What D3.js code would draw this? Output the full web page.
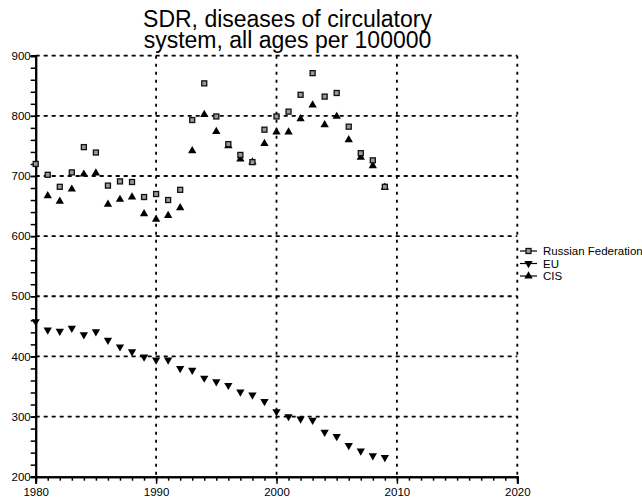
<!DOCTYPE html>
<html>
<head>
<meta charset="utf-8">
<script src="https://cdn.jsdelivr.net/npm/d3@7"></script>
<style>
  body { margin: 0; background: #fff; }
  svg { display: block; font-family: "Liberation Sans", Arial, sans-serif; }
</style>
</head>
<body>
<svg width="642" height="498"></svg>
<script>
// values
var years = d3.range(1980, 2010);
var russia = [720, 702, 682, 706, 748, 739, 684, 691, 690, 665,
              670, 660, 677, 793, 854, 799, 753, 735, 723, 777,
              799, 807, 835, 871, 832, 838, 782, 738, 726, 682];
var eu = [458, 444, 442, 447, 436, 441, 427, 416, 408, 399,
          394, 394, 380, 377, 364, 358, 352, 341, 336, 325,
          308, 300, 296, 294, 274, 267, 252, 243, 235, 232];
var cis = [null, 667, 658, 678, 703, 705, 653, 661, 665, 637,
           628, 634, 647, 742, 802, 774, 750, 728, 723, 754,
           773, 773, 795, 818, 785, 799, 760, 731, 717, 681];
var titleLines = ["SDR, diseases of circulatory", "system, all ages per 100000"];
var xTicks = [1980, 1990, 2000, 2010, 2020];
var yTicks = [200, 300, 400, 500, 600, 700, 800, 900];

var svg = d3.select("svg");
var plotLeft = 35.7, plotRight = 517.3, plotTop = 55.7, plotBottom = 476.7;

var x = d3.scaleLinear().domain([1980, 2020]).range([plotLeft, plotRight]);
var y = d3.scaleLinear().domain([200, 900]).range([plotBottom, plotTop]);

// title
svg.append("text")
    .attr("x", 287.5)
    .attr("y", 27.3)
    .attr("text-anchor", "middle")
    .style("font-size", "23px")
    .selectAll("tspan")
    .data(titleLines)
    .enter().append("tspan")
    .attr("x", 287.5)
    .attr("dy", function(d, i) { return i ? 21 : 0; })
    .text(function(d) { return d; });

// grid
var grid = svg.append("g")
    .attr("stroke", "#000")
    .attr("stroke-width", 1.8)
    .attr("stroke-dasharray", "4,4");
grid.selectAll(".h")
    .data(yTicks.filter(function(d) { return d > 200; }))
    .enter().append("line")
    .attr("x1", plotLeft).attr("x2", plotRight)
    .attr("y1", function(d) { return y(d); })
    .attr("y2", function(d) { return y(d); });
grid.selectAll(".v")
    .data(xTicks.filter(function(d) { return d > 1980; }))
    .enter().append("line")
    .attr("y1", plotTop).attr("y2", plotBottom)
    .attr("x1", function(d) { return x(d); })
    .attr("x2", function(d) { return x(d); })
    .attr("stroke-dasharray", "3,5");

// axes
var xAxisMinor = d3.axisBottom(x).ticks(40).tickSize(4).tickFormat("");
var xAxis = d3.axisBottom(x).tickValues(xTicks).tickSize(7).tickPadding(4).tickFormat(d3.format("d"));
var yAxisMinor = d3.axisLeft(y).tickValues(d3.range(200, 901, 20)).tickSize(5).tickFormat("");
var yAxis = d3.axisLeft(y).tickValues(yTicks).tickSize(5).tickPadding(0);

function styleAxis(g) {
  g.select(".domain").attr("stroke-width", 2);
  g.selectAll(".tick line").attr("stroke-width", 1.5);
  g.selectAll("text").style("font-size", "11.5px").attr("fill", "#000")
    .style("font-family", "'Liberation Sans', Arial, sans-serif");
}

svg.append("g").attr("transform", "translate(0," + plotBottom + ")").call(xAxisMinor).call(styleAxis);
svg.append("g").attr("transform", "translate(0," + plotBottom + ")").call(xAxis).call(styleAxis)
    .selectAll("text").attr("dy", "0.71em");
svg.append("g").attr("transform", "translate(" + plotLeft + ",0)").call(yAxisMinor).call(styleAxis);
svg.append("g").attr("transform", "translate(" + plotLeft + ",0)").call(yAxis).call(styleAxis);

// markers
var tri = d3.symbol().type(d3.symbolTriangle).size(30);

function squares(g, data) {
  g.selectAll("rect")
    .data(data.filter(function(d) { return d.v != null; }))
    .enter().append("rect")
    .attr("x", function(d) { return x(d.year) - 2.5; })
    .attr("y", function(d) { return y(d.v) - 2.5; })
    .attr("width", 5).attr("height", 5)
    .attr("fill", "#999").attr("stroke", "#111").attr("stroke-width", 1.3);
}
function triangles(g, data, down) {
  g.selectAll("path")
    .data(data.filter(function(d) { return d.v != null; }))
    .enter().append("path")
    .attr("d", tri)
    .attr("transform", function(d) {
      return "translate(" + x(d.year) + "," + y(d.v) + ")" + (down ? " rotate(180)" : "");
    })
    .attr("fill", "#000");
}

function pairs(vals) {
  return years.map(function(yr, i) { return { year: yr, v: vals[i] }; });
}

triangles(svg.append("g"), pairs(eu), true);
triangles(svg.append("g"), pairs(cis), false);
squares(svg.append("g"), pairs(russia));

// legend
var legendNames = ["Russian Federation", "EU", "CIS"];
var legend = svg.selectAll(".legend")
    .data(legendNames)
    .enter().append("g")
    .attr("class", "legend")
    .attr("transform", function(d, i) { return "translate(520," + (251 + i * 12.5) + ")"; });
legend.append("line")
    .attr("x1", 0).attr("x2", 17)
    .attr("stroke", "#000").attr("stroke-width", 1.2);
legend.each(function(d, i) {
  var g = d3.select(this);
  if (i == 0) {
    g.append("rect").attr("x", 6).attr("y", -2.5).attr("width", 5).attr("height", 5)
      .attr("fill", "#999").attr("stroke", "#111").attr("stroke-width", 1.3);
  } else {
    g.append("path").attr("d", tri)
      .attr("transform", "translate(8.5,0)" + (i == 1 ? " rotate(180)" : ""))
      .attr("fill", "#000");
  }
});
legend.append("text")
    .attr("x", 23)
    .attr("dy", "0.35em")
    .style("font-size", "11.5px")
    .text(function(d) { return d; });
</script>
</body>
</html>
